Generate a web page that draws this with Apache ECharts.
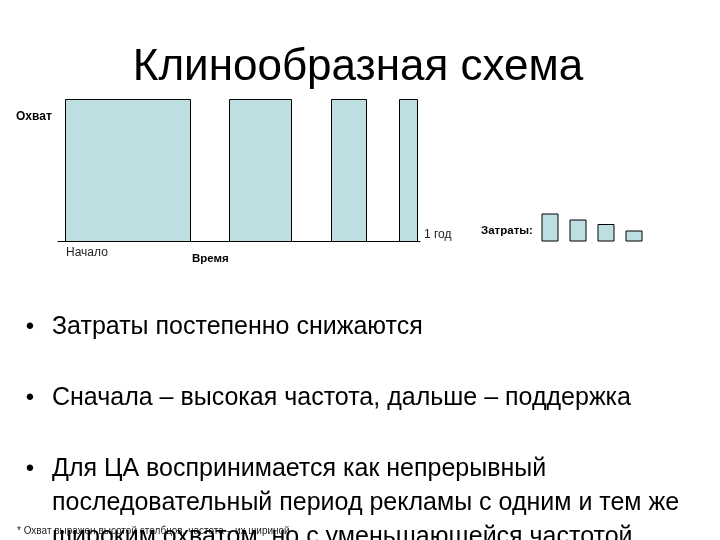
<!DOCTYPE html>
<html>
<head>
<meta charset="utf-8">
<script src="https://cdn.jsdelivr.net/npm/echarts@6/dist/echarts.min.js"></script>
<style>
html,body{margin:0;padding:0;background:#fff;}
#chart{width:720px;height:540px;}
</style>
</head>
<body>
<div id="chart"></div>
<script>
// Data: flight periods (weeks of the year) and reach (height)
const periodStart = [1.0, 24.6, 39.2, 49.0];
const periodEnd   = [18.9, 33.5, 44.2, 51.5];
const reach       = [100, 100, 100, 100];
// Costs per flight (relative)
const costCategories = ['1', '2', '3', '4'];
const costValues     = [28, 22, 17.5, 11];

const title = 'Клинообразная схема';
const bullets = [
  'Затраты постепенно снижаются',
  'Сначала – высокая частота, дальше – поддержка',
  'Для ЦА воспринимается как непрерывный',
  'последовательный период рекламы с одним и тем же',
  'широким охватом, но с уменьшающейся частотой'
];
const footnote = '* Охват выражен высотой столбцов, частота – их шириной';

const FILL = '#BDDFE2';
const FONT = '"Liberation Sans", Arial, sans-serif';

const chart = echarts.init(document.getElementById('chart'));

const flightData = periodStart.map((s, i) => [s, periodEnd[i], reach[i]]);

function txt(text, x, y, size, opts) {
  opts = opts || {};
  return {
    type: 'text',
    z: opts.z || 10,
    style: {
      text: text, x: x, y: y,
      fontSize: size,
      fontFamily: FONT,
      fontWeight: opts.bold ? 'bold' : 'normal',
      fill: opts.color || '#000',
      textAlign: opts.align || 'left',
      textVerticalAlign: 'middle'
    }
  };
}

const graphics = [
  txt(title, 358, 68, 44, {align: 'center'}),
  txt('Охват', 16, 117, 12, {bold: true}),
  txt('Начало', 66, 253, 12, {color: '#222'}),
  txt('Время', 192, 259, 11.5, {bold: true}),
  txt('1 год', 424, 235, 12, {color: '#222'}),
  txt('Затраты:', 481, 231, 11.5, {bold: true}),
  txt('•', 30, 327, 24, {align: 'center'}),
  txt(bullets[0], 52, 327, 25),
  txt('•', 30, 398, 24, {align: 'center'}),
  txt(bullets[1], 52, 398, 25),
  txt('•', 30, 469, 24, {align: 'center'}),
  txt(bullets[2], 52, 469, 25),
  txt(bullets[3], 52, 503, 25),
  txt(footnote, 17, 531, 10, {color: '#222', z: 5}),
  txt(bullets[4], 52, 537, 25, {z: 11})
];

const crisp = v => Math.round(v) + 0.5;

const option = {
  animation: false,
  backgroundColor: '#fff',
  grid: [
    {left: 58, right: 300, top: 99, bottom: 299},
    {left: 536, width: 112, top: 211.5, height: 30}
  ],
  xAxis: [
    {gridIndex: 0, type: 'value', min: 0, max: 52,
     axisLine: {show: true, lineStyle: {color: '#000', width: 1}},
     axisTick: {show: false}, axisLabel: {show: false}, splitLine: {show: false}},
    {gridIndex: 1, type: 'category', data: costCategories,
     axisLine: {show: false}, axisTick: {show: false}, axisLabel: {show: false}}
  ],
  yAxis: [
    {gridIndex: 0, type: 'value', min: 0, max: 100, show: false},
    {gridIndex: 1, type: 'value', min: 0, max: 30, show: false}
  ],
  series: [
    {
      type: 'custom',
      xAxisIndex: 0, yAxisIndex: 0,
      data: flightData,
      encode: {x: [0, 1], y: 2},
      renderItem: function (params, api) {
        const p0 = api.coord([api.value(0), 0]);
        const p1 = api.coord([api.value(1), api.value(2)]);
        const x0 = crisp(p0[0]), x1 = crisp(p1[0]);
        const y0 = crisp(p0[1]), y1 = crisp(p1[1]);
        return {
          type: 'rect',
          shape: {x: x0, y: y1, width: x1 - x0, height: y0 - y1},
          style: {fill: FILL, stroke: '#000', lineWidth: 1}
        };
      },
      z: 1
    },
    {
      type: 'bar',
      xAxisIndex: 1, yAxisIndex: 1,
      data: costValues,
      barWidth: 17,
      itemStyle: {color: FILL, borderColor: '#000', borderWidth: 1}
    }
  ],
  graphic: graphics
};
chart.setOption(option);
</script>
</body>
</html>
